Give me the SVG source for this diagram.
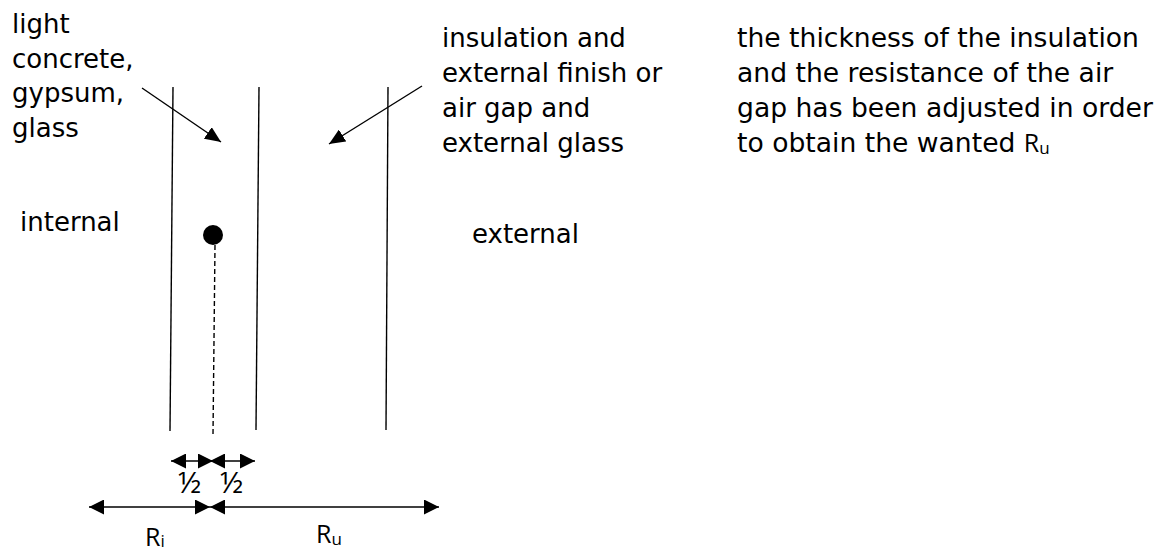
<svg xmlns="http://www.w3.org/2000/svg" width="1162" height="551" viewBox="0 0 1162 551">
<style>
.t{font-family:"DejaVu Sans","Verdana",sans-serif;font-size:26px;fill:#000}
.t2{font-family:"DejaVu Sans","Verdana",sans-serif;font-size:26.6px;fill:#000}
.r{font-family:"Open Sans","Liberation Sans",sans-serif;font-size:25px;fill:#000}
.sub{font-size:17px}
.half{font-size:30px}
.ln{stroke:#000;stroke-width:1.4;fill:none}
</style>
<defs>
<marker id="ah" viewBox="0 0 15 15" refX="15" refY="7.5" markerWidth="15" markerHeight="15" markerUnits="userSpaceOnUse" orient="auto-start-reverse">
<path d="M0,0 L15,7.5 L0,15 Z" fill="#000"/>
</marker>
<marker id="ah2" viewBox="0 0 16 14" refX="16" refY="7" markerWidth="16" markerHeight="14" markerUnits="userSpaceOnUse" orient="auto">
<path d="M0,0 L16,7 L0,14 Z" fill="#000"/>
</marker>
</defs>
<rect width="1162" height="551" fill="#fff"/>
<g id="label-inner-layer">
<text class="t" x="12" y="33">light</text>
<text class="t" x="12" y="68">concrete,</text>
<text class="t" x="12" y="102">gypsum,</text>
<text class="t" x="12" y="137">glass</text>
</g>
<g id="label-outer-layer">
<text class="t" x="442" y="47">insulation and</text>
<text class="t" x="442" y="82">external finish or</text>
<text class="t" x="442" y="117">air gap and</text>
<text class="t" x="442" y="152">external glass</text>
</g>
<g id="note">
<text class="t2" x="737" y="47">the thickness of the insulation</text>
<text class="t2" x="737" y="82">and the resistance of the air</text>
<text class="t2" x="737" y="117">gap has been adjusted in order</text>
<text class="t2" x="737" y="152">to obtain the wanted <tspan class="r">R</tspan><tspan class="r sub" dy="2">u</tspan></text>
</g>
<g id="label-internal"><text class="t" x="20" y="231">internal</text></g>
<g id="label-external"><text class="t" x="472" y="243">external</text></g>
<g id="wall-1"><line class="ln" x1="173" y1="87" x2="170" y2="431"/></g>
<g id="wall-2"><line class="ln" x1="259" y1="87" x2="256" y2="430"/></g>
<g id="wall-3"><line class="ln" x1="388" y1="87" x2="386" y2="430"/></g>
<g id="node-point">
<circle cx="213" cy="235" r="10" fill="#000"/>
</g>
<g id="connectors">
<line class="ln" x1="142" y1="88" x2="221" y2="142" marker-end="url(#ah2)"/>
<line class="ln" x1="422" y1="86" x2="329" y2="144" marker-end="url(#ah2)"/>
<line class="ln" x1="215" y1="245" x2="213" y2="435" stroke-dasharray="5 3"/>
<line class="ln" x1="171" y1="461" x2="213" y2="461" marker-start="url(#ah)" marker-end="url(#ah)"/>
<line class="ln" x1="210" y1="461" x2="255" y2="461" marker-start="url(#ah)" marker-end="url(#ah)"/>
<line class="ln" x1="89" y1="507" x2="210" y2="507" marker-start="url(#ah)" marker-end="url(#ah)"/>
<line class="ln" x1="210" y1="507" x2="439" y2="507" marker-start="url(#ah)" marker-end="url(#ah)"/>
</g>
<g id="label-half-1"><text class="r half" x="178" y="493">½</text></g>
<g id="label-half-2"><text class="r half" x="220" y="493">½</text></g>
<g id="label-Ri"><text class="r" x="145" y="546">R<tspan class="sub" dy="1">i</tspan></text></g>
<g id="label-Ru"><text class="r" x="316" y="543">R<tspan class="sub" dy="2">u</tspan></text></g>
</svg>
